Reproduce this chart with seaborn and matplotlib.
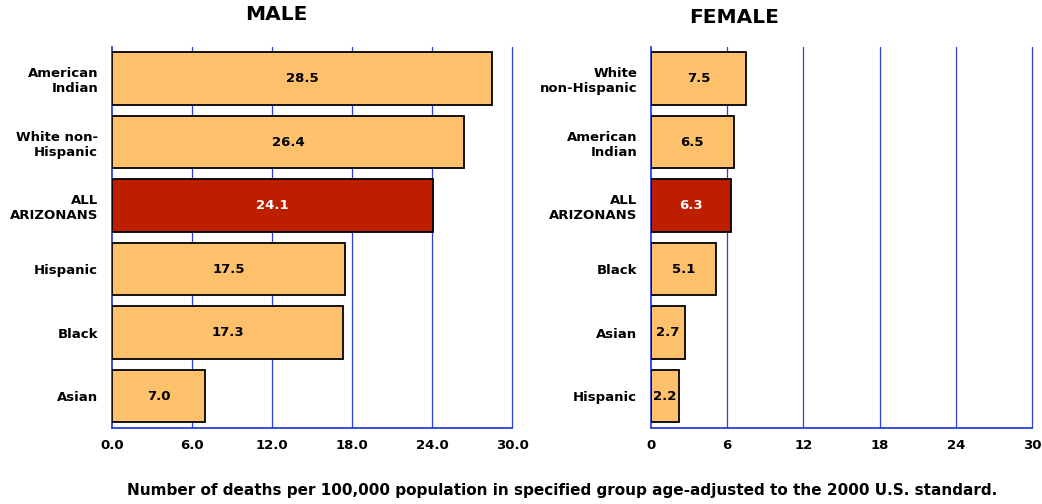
import pandas as pd
import seaborn as sns
import matplotlib.pyplot as plt

# male panel
male_groups = ["American\nIndian", "White non-\nHispanic", "ALL\nARIZONANS", "Hispanic", "Black", "Asian"]
male_rates = [28.5, 26.4, 24.1, 17.5, 17.3, 7.0]

# female panel
female_groups = ["White\nnon-Hispanic", "American\nIndian", "ALL\nARIZONANS", "Black", "Asian", "Hispanic"]
female_rates = [7.5, 6.5, 6.3, 5.1, 2.7, 2.2]

male_ticks = [0, 6, 12, 18, 24, 30]
male_ticklabels = ["0.0", "6.0", "12.0", "18.0", "24.0", "30.0"]
female_ticks = [0, 6, 12, 18, 24, 30]
female_ticklabels = ["0", "6", "12", "18", "24", "30"]

BAR = "#FDC06B"
TOTAL = "#BE1E00"
GRID = "#2A3FE0"

sns.set_theme(style="white", rc={"text.color": "black", "xtick.color": "black",
                                 "ytick.color": "black"})
plt.rcParams["font.family"] = ["DejaVu Sans"]


def draw_panel(ax, groups, rates, ticks, ticklabels):
    df = pd.DataFrame({"group": groups, "rate": rates})
    colors = {g: (TOTAL if g.startswith("ALL") else BAR) for g in groups}
    sns.barplot(data=df, x="rate", y="group", hue="group", palette=colors,
                legend=False, ax=ax, width=0.83, edgecolor="black",
                linewidth=1.3, saturation=1, zorder=3)
    ax.set_xlim(0, 30)
    ax.set_ylim(5.5, -0.5)
    ax.set_xticks(ticks)
    ax.set_xticklabels(ticklabels, fontsize=9.5, fontweight="bold", color="black")
    ax.set_yticks(range(len(groups)))
    ax.set_yticklabels(groups, fontsize=9.5, fontweight="bold", ha="right",
                       multialignment="right", color="black")
    ax.tick_params(axis="both", length=0, pad=10)
    ax.tick_params(axis="x", pad=8)
    ax.set_xlabel("")
    ax.set_ylabel("")
    for x in ticks[1:]:
        ax.axvline(x, color=GRID, linewidth=0.9, zorder=1, clip_on=False)
    for s in ["top", "right"]:
        ax.spines[s].set_visible(False)
    for s in ["left", "bottom"]:
        ax.spines[s].set_color(GRID)
        ax.spines[s].set_linewidth(1.3)
    for i, (g, v) in enumerate(zip(groups, rates)):
        ax.text(v / 2, i, f"{v:.1f}", ha="center", va="center",
                fontsize=9.5, fontweight="bold",
                color="white" if g.startswith("ALL") else "black", zorder=5)


fig = plt.figure(figsize=(10.42, 5.04), dpi=100)
ax1 = fig.add_axes([0.1075, 0.151, 0.384, 0.756])
ax2 = fig.add_axes([0.6248, 0.151, 0.3656, 0.756])

draw_panel(ax1, male_groups, male_rates, male_ticks, male_ticklabels)
draw_panel(ax2, female_groups, female_rates, female_ticks, female_ticklabels)

fig.text(0.265, 0.972, "MALE", ha="center", va="center", fontsize=14.5, fontweight="bold")
fig.text(0.704, 0.966, "FEMALE", ha="center", va="center", fontsize=14.5, fontweight="bold")
fig.text(0.539, 0.026,
         "Number of deaths per 100,000 population in specified group age-adjusted to the 2000 U.S. standard.",
         ha="center", va="center", fontsize=11, fontweight="bold")

fig.savefig("out.png", dpi=100)
